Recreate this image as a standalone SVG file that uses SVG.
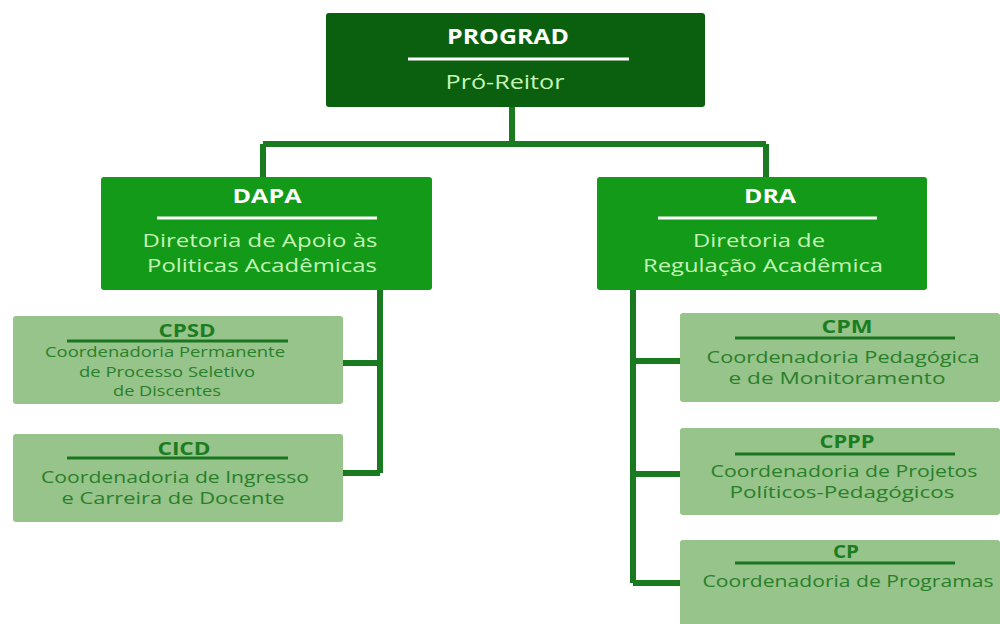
<svg xmlns="http://www.w3.org/2000/svg" width="1000" height="624" viewBox="0 0 1000 624">
<style>
text{font-family:"Open Sans","Noto Sans","Liberation Sans",sans-serif;text-anchor:middle}
.top{fill:#0a600f}
.mid{fill:#129a18}
.low{fill:#96c48a}
.wt{fill:#ffffff;font-weight:bold;font-size:19px}
.lt{fill:#c4f5b4;font-size:19px}
.dt{fill:#1b7d22;font-weight:bold;font-size:18px}
.ds{fill:#2a7f2a;font-size:17px}
.dss{fill:#2a7f2a;font-size:15px}
.rule{stroke:#ffffff;stroke-width:3}
.drule{stroke:#1a7520;stroke-width:3}
.conn{fill:none;stroke:#1a7a1f;stroke-width:6}
</style>
<rect width="1000" height="624" fill="#ffffff"/>
<g id="connectors">
<path class="conn" d="M512,107 V144 M263,144 H766 M263,144 V178 M766,144 V178"/>
<path class="conn" d="M380,290 V473 M343,363 H380 M343,473 H380"/>
<path class="conn" d="M633,290 V583 M633,361 H680 M633,474 H680 M633,583 H680"/>
</g>
<g id="prograd">
<rect class="top" x="326" y="13" width="379" height="94" rx="3"/>
<text class="wt" x="508" y="44" textLength="122" lengthAdjust="spacingAndGlyphs" style="font-size:21px">PROGRAD</text>
<line class="rule" x1="408" y1="59" x2="629" y2="59"/>
<text class="lt" x="505" y="89" textLength="119" lengthAdjust="spacingAndGlyphs" style="font-size:20px">Pró-Reitor</text>
</g>
<g id="dapa">
<rect class="mid" x="101" y="177" width="331" height="113" rx="3"/>
<text class="wt" x="267" y="203" textLength="69" lengthAdjust="spacingAndGlyphs">DAPA</text>
<line class="rule" x1="157" y1="218" x2="377" y2="218"/>
<text class="lt" x="260" y="247" textLength="235" lengthAdjust="spacingAndGlyphs">Diretoria de Apoio às</text>
<text class="lt" x="262" y="272" textLength="230" lengthAdjust="spacingAndGlyphs">Politicas Acadêmicas</text>
</g>
<g id="dra">
<rect class="mid" x="597" y="177" width="330" height="113" rx="3"/>
<text class="wt" x="770" y="203" textLength="52" lengthAdjust="spacingAndGlyphs">DRA</text>
<line class="rule" x1="658" y1="218" x2="877" y2="218"/>
<text class="lt" x="759" y="247" textLength="132" lengthAdjust="spacingAndGlyphs">Diretoria de</text>
<text class="lt" x="763" y="272" textLength="240" lengthAdjust="spacingAndGlyphs">Regulação Acadêmica</text>
</g>
<g id="cpsd">
<rect class="low" x="13" y="316" width="330" height="88" rx="3"/>
<text class="dt" x="187" y="337" textLength="57" lengthAdjust="spacingAndGlyphs">CPSD</text>
<line class="drule" x1="67" y1="341" x2="288" y2="341"/>
<text class="dss" x="165" y="357" textLength="240" lengthAdjust="spacingAndGlyphs">Coordenadoria Permanente</text>
<text class="dss" x="167" y="377" textLength="176" lengthAdjust="spacingAndGlyphs">de Processo Seletivo</text>
<text class="dss" x="167" y="396" textLength="108" lengthAdjust="spacingAndGlyphs">de Discentes</text>
</g>
<g id="cicd">
<rect class="low" x="13" y="434" width="330" height="88" rx="3"/>
<text class="dt" x="184" y="455" textLength="53" lengthAdjust="spacingAndGlyphs">CICD</text>
<line class="drule" x1="67" y1="458" x2="288" y2="458"/>
<text class="ds" x="175" y="483" textLength="268" lengthAdjust="spacingAndGlyphs">Coordenadoria de Ingresso</text>
<text class="ds" x="173" y="504" textLength="223" lengthAdjust="spacingAndGlyphs">e Carreira de Docente</text>
</g>
<g id="cpm">
<rect class="low" x="680" y="313" width="320" height="89" rx="3"/>
<text class="dt" x="847" y="333" textLength="51" lengthAdjust="spacingAndGlyphs">CPM</text>
<line class="drule" x1="735" y1="338" x2="955" y2="338"/>
<text class="ds" x="843" y="363" textLength="273" lengthAdjust="spacingAndGlyphs">Coordenadoria Pedagógica</text>
<text class="ds" x="837" y="384" textLength="217" lengthAdjust="spacingAndGlyphs">e de Monitoramento</text>
</g>
<g id="cppp">
<rect class="low" x="680" y="428" width="320" height="87" rx="3"/>
<text class="dt" x="847" y="448" textLength="55" lengthAdjust="spacingAndGlyphs">CPPP</text>
<line class="drule" x1="735" y1="454" x2="955" y2="454"/>
<text class="ds" x="844" y="477" textLength="267" lengthAdjust="spacingAndGlyphs">Coordenadoria de Projetos</text>
<text class="ds" x="842" y="498" textLength="225" lengthAdjust="spacingAndGlyphs">Políticos-Pedagógicos</text>
</g>
<g id="cp">
<rect class="low" x="680" y="540" width="320" height="90" rx="3"/>
<text class="dt" x="846" y="558" textLength="26" lengthAdjust="spacingAndGlyphs">CP</text>
<line class="drule" x1="735" y1="563" x2="955" y2="563"/>
<text class="ds" x="848" y="587" textLength="291" lengthAdjust="spacingAndGlyphs">Coordenadoria de Programas</text>
</g>
</svg>
